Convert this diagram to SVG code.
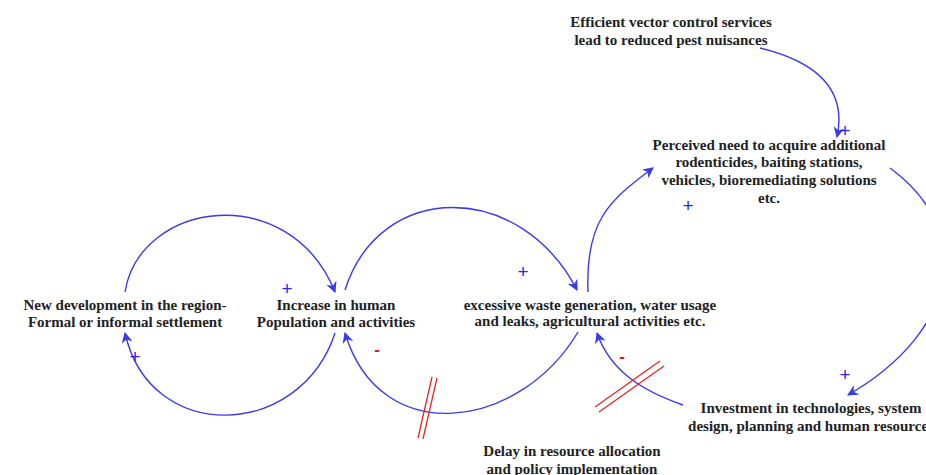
<svg xmlns="http://www.w3.org/2000/svg" width="926" height="475" viewBox="0 0 926 475">
<style>
.t{font-family:"Liberation Serif","Times New Roman",serif;font-weight:bold;font-size:15px;fill:#222;text-anchor:middle}
.c{fill:none;stroke:#3a3ae8;stroke-width:1.4;marker-end:url(#ah)}
.p{font-family:"Liberation Sans",Arial,sans-serif;font-size:19px;fill:#2a2ae8;text-anchor:middle}
.m{font-family:"Liberation Sans",Arial,sans-serif;font-size:17px;font-weight:bold;fill:#d62020;text-anchor:middle}
.d{stroke:#e02828;stroke-width:1.3}
</style>
<defs>
<marker id="ah" viewBox="0 0 10 10" refX="9" refY="5" markerWidth="11" markerHeight="11" markerUnits="userSpaceOnUse" orient="auto">
<path d="M0,0 L10,5 L0,10 L3,5 Z" fill="#3a3ae8"/>
</marker>
</defs>
<rect width="926" height="475" fill="#fff"/>
<g id="connectors">
<path class="c" d="M760,48 C830,65 845,100 837,137"/>
<path class="c" d="M588,292 C585,220 610,200 653,168"/>
<path class="c" d="M890,168 C975,230 960,330 848,395"/>
<path class="c" d="M683,405 C640,390 610,370 597,333"/>
<path class="c" d="M578,332 C520,430 380,450 345,333"/>
<path class="c" d="M345,290 C380,180 520,180 577,290"/>
<path class="c" d="M125,292 C140,200 290,180 335,292"/>
<path class="c" d="M335,333 C300,440 150,445 125,333"/>
<line class="d" x1="432" y1="377" x2="418" y2="438"/>
<line class="d" x1="437" y1="378" x2="423" y2="439"/>
<line class="d" x1="595" y1="407" x2="660" y2="361"/>
<line class="d" x1="599" y1="412" x2="664" y2="366"/>
<text class="p" x="845" y="137">+</text>
<text class="p" x="688" y="212">+</text>
<text class="p" x="845" y="381">+</text>
<text class="m" x="622" y="362">-</text>
<text class="m" x="377" y="355">-</text>
<text class="p" x="523" y="278">+</text>
<text class="p" x="287" y="295">+</text>
<text class="p" x="135" y="363">+</text>
</g>
<g id="n-efficient"><text class="t" x="671" y="27">Efficient vector control services</text><text class="t" x="671" y="45">lead to reduced pest nuisances</text></g>
<g id="n-perceived"><text class="t" x="769" y="150">Perceived need to acquire additional</text><text class="t" x="769" y="167">rodenticides, baiting stations,</text><text class="t" x="769" y="185">vehicles, bioremediating solutions</text><text class="t" x="769" y="203">etc.</text></g>
<g id="n-newdev"><text class="t" x="125" y="310">New development in the region-</text><text class="t" x="125" y="327">Formal or informal settlement</text></g>
<g id="n-increase"><text class="t" x="336" y="310">Increase in human</text><text class="t" x="336" y="327">Population and activities</text></g>
<g id="n-waste"><text class="t" x="590" y="310">excessive waste generation, water usage</text><text class="t" x="590" y="326">and leaks, agricultural activities etc.</text></g>
<g id="n-invest"><text class="t" x="811" y="413">Investment in technologies, system</text><text class="t" x="811" y="431">design, planning and human resources</text></g>
<g id="n-delay"><text class="t" x="572" y="456">Delay in resource allocation</text><text class="t" x="572" y="474">and policy implementation</text></g>
</svg>
